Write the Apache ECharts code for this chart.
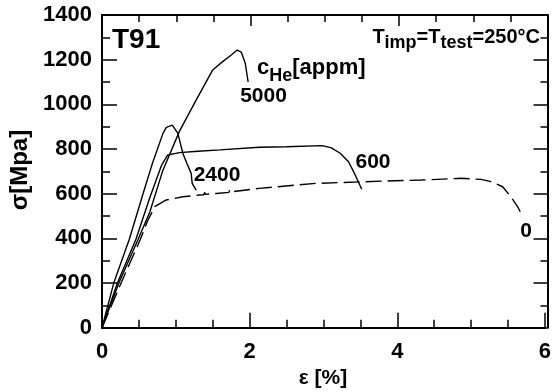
<!DOCTYPE html>
<html>
<head>
<meta charset="utf-8">
<script src="https://cdn.jsdelivr.net/npm/echarts@6/dist/echarts.min.js"></script>
<style>
  html, body { margin: 0; padding: 0; background: #fff; }
  #chart { width: 554px; height: 392px; }
</style>
</head>
<body>
<div id="chart"></div>
<script>
// strain [%], stress [MPa]
const he0 = [[0,0],[0.26,201],[0.52,396],[0.62,480],[0.669,512],[0.714,542],[0.871,572],[1.095,586],[1.32,594],[1.38,595],[1.39,606],[1.40,597],[1.55,601],[1.72,606],[1.73,617],[1.745,608],[2.128,624],[2.892,646],[3.5,653],[3.969,658],[4.327,661],[4.866,669],[5.135,664],[5.27,654],[5.428,631],[5.539,586],[5.63,542],[5.666,519]]
const he600 = [[0,0],[0.21,201],[0.46,396],[0.646,581],[0.808,728],[0.889,773],[1.05,784],[1.3,790],[1.6,796],[1.61,803],[1.62,794],[2.13,808],[2.5,810],[2.98,815],[3.1,806],[3.228,781],[3.34,743],[3.43,684],[3.519,620]]
const he2400 = [[0,0],[0.16,201],[0.37,396],[0.556,600],[0.687,740],[0.826,870],[0.871,897],[0.952,907],[1.028,870],[1.095,781],[1.149,736],[1.208,691],[1.222,646],[1.275,616]]
const he5000 = [[0,0],[0.23,201],[0.49,396],[0.65,520],[0.82,700],[1.05,880],[1.275,1019],[1.5,1154],[1.63,1190],[1.751,1221],[1.832,1243],[1.886,1234],[1.94,1185],[1.98,1100]]

const xTicks = { min: 0, max: 6, step: 2 }
const yTicks = { min: 0, max: 1400, step: 200 }

const chart = echarts.init(document.getElementById('chart'))
const FONT = '"Liberation Sans", Arial, sans-serif'
const black = '#000'
const plotBox = { left: 102, right: 6.5, top: 15, bottom: 64.3 }

const axisBase = (gridIndex, pos, t, showLabel, majorLen, minorLen, minorSplit) => ({
  type: 'value',
  gridIndex: gridIndex,
  position: pos,
  min: t.min,
  max: t.max,
  interval: t.step,
  axisLine: { show: true, onZero: false, lineStyle: { color: black, width: 2 } },
  axisTick: { show: true, inside: true, length: majorLen, lineStyle: { color: black, width: 1.5 } },
  minorTick: { show: true, splitNumber: minorSplit, length: minorLen, lineStyle: { color: black, width: 1.5 } },
  splitLine: { show: false },
  minorSplitLine: { show: false },
  axisLabel: {
    show: showLabel,
    color: black,
    fontFamily: FONT,
    fontWeight: 'bold',
    fontSize: 22,
    margin: pos === 'bottom' ? 13 : 10,
    formatter: v => String(v)
  }
})

const curve = (name, data, dashed) => ({
  name: name,
  type: 'line',
  data: data,
  showSymbol: false,
  symbol: 'none',
  silent: true,
  lineStyle: { color: black, width: 1.4, type: dashed ? [16, 6] : 'solid' }
})

const txt = (text, x, y, size, align, extra) => ({
  type: 'text',
  x: x,
  y: y,
  style: Object.assign({
    text: text,
    font: 'bold ' + size + 'px ' + FONT,
    fill: black,
    align: align || 'left',
    textAlign: align || 'left',
    verticalAlign: 'middle',
    textVerticalAlign: 'middle'
  }, extra || {})
})

const option = {
  animation: false,
  backgroundColor: '#fff',
  // second grid only carries the top / right frame with its ticks
  grid: [Object.assign({}, plotBox), Object.assign({}, plotBox)],
  xAxis: [
    axisBase(0, 'bottom', xTicks, true, 15, 8, 4),
    axisBase(1, 'top', xTicks, false, 11, 7, 4)
  ],
  yAxis: [
    axisBase(0, 'left', yTicks, true, 15, 8, 2),
    axisBase(1, 'right', yTicks, false, 14, 7, 2)
  ],
  series: [
    curve('0', he0, true),
    curve('600', he600, false),
    curve('2400', he2400, false),
    curve('5000', he5000, false)
  ],
  graphic: [
    txt('T91', 112, 40, 28),
    {
      type: 'text',
      x: 540,
      y: 27,
      style: {
        text: '{a|T}{s|imp}{a|=T}{s|test}{a|=250°C}',
        fill: black,
        align: 'right',
        textAlign: 'right',
        verticalAlign: 'top',
        textVerticalAlign: 'top',
        rich: {
          a: { font: 'bold 20px ' + FONT, fill: black, lineHeight: 18, verticalAlign: 'top' },
          s: { font: 'bold 18px ' + FONT, fill: black, lineHeight: 32 }
        }
      }
    },
    {
      type: 'text',
      x: 257,
      y: 57,
      style: {
        text: '{a|c}{s|He}{a|[appm]}',
        fill: black,
        align: 'left',
        textAlign: 'left',
        verticalAlign: 'top',
        textVerticalAlign: 'top',
        rich: {
          a: { font: 'bold 22px ' + FONT, fill: black, lineHeight: 22, verticalAlign: 'top' },
          s: { font: 'bold 18px ' + FONT, fill: black, lineHeight: 38 }
        }
      }
    },
    txt('5000', 263.5, 96, 21, 'center'),
    txt('2400', 217, 175, 21, 'center'),
    txt('600', 373, 162, 21, 'center'),
    txt('0', 526, 231, 21, 'center'),
    txt('ε [%]', 323, 378, 21, 'center'),
    Object.assign(txt('σ[Mpa]', 0, 0, 24, 'center'), { x: 20, y: 170, rotation: Math.PI / 2 })
  ]
}

chart.setOption(option)
</script>
</body>
</html>
